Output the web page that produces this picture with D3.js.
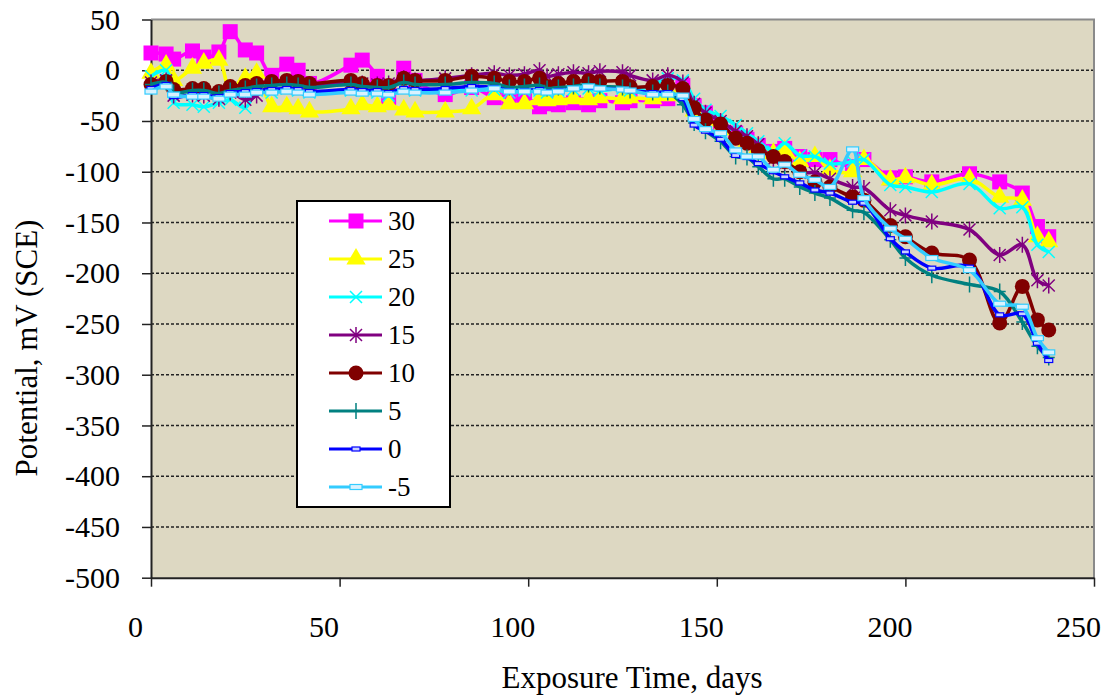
<!DOCTYPE html>
<html>
<head>
<meta charset="utf-8">
<script src="https://cdn.jsdelivr.net/npm/d3@7"></script>
<style>
  body { margin: 0; background: #fff; }
  svg { display: block; }
  svg text { font-family: "Liberation Serif", "Times New Roman", serif; }
</style>
</head>
<body>
<div id="chartDiv"></div>
<script>
var width = 1109;
var height = 698;
var serif = '"Liberation Serif", "Times New Roman", serif';

// measurement days shared by all series
const days = [0, 4, 6, 11, 14, 18, 21, 25, 28, 32, 36, 39, 42, 53, 56, 60, 63, 67, 70, 78,
    85, 91, 95, 99, 103, 105, 108, 112, 116, 119, 125, 127, 133, 137, 141, 144, 147, 151, 155, 158,
    161, 165, 168, 172, 176, 180, 186, 189, 196, 200, 207, 217, 225, 231, 235, 238];

const s30 = [17, 16, 11, 19, 13, 18, 38, 20, 17, -5, 6, 0, -13, 5, 10, -6, -27, 2, -10, -24,
    -17, -27, -28, -30, -36, -33, -34, -32, -34, -30, -32, -30, -30, -28, -15, -35, -42, -55, -62, -68,
    -74, -80, -77, -85, -88, -88, -95, -88, -106, -105, -110, -102, -110, -121, -154, -164];
const s25 = [-3, 5, -10, 2, 7, 10, -19, -8, -3, -36, -36, -38, -41, -38, -34, -36, -34, -39, -41, -41,
    -38, -24, -33, -33, -29, -30, -29, -28, -29, -27, -28, -27, -28, -25, -18, -40, -48, -58, -66, -70,
    -76, -82, -79, -90, -85, -98, -100, -88, -108, -106, -113, -107, -125, -128, -164, -169];
const s20 = [-6, 0, -32, -34, -36, -32, -29, -37, -20, -22, -18, -20, -22, -20, -19, -22, -25, -18, -20, -19,
    -20, -19, -22, -20, -20, -22, -20, -19, -18, -20, -18, -20, -15, -8, -10, -28, -39, -45, -54, -62,
    -70, -80, -72, -84, -85, -92, -90, -88, -113, -115, -120, -112, -136, -135, -172, -179];
const s15 = [-12, -10, -25, -24, -25, -28, -22, -29, -25, -14, -12, -12, -14, -12, -13, -14, -13, -8, -10, -8,
    -5, -3, -5, -4, 0, -6, -4, -2, -3, -1, -2, -5, -10, -5, -12, -33, -42, -50, -60, -65,
    -73, -88, -92, -101, -101, -107, -115, -116, -138, -143, -149, -157, -182, -172, -207, -212];
const s10 = [-14, -11, -19, -18, -18, -21, -16, -15, -13, -11, -10, -11, -13, -10, -13, -15, -15, -8, -10, -10,
    -6, -8, -11, -11, -8, -16, -13, -11, -10, -11, -11, -16, -16, -15, -18, -37, -49, -53, -67, -72,
    -79, -85, -90, -100, -110, -115, -125, -128, -153, -164, -180, -187, -249, -213, -246, -256];
const s5 = [-14, -12, -22, -20, -20, -23, -20, -18, -16, -15, -14, -15, -17, -14, -16, -17, -17, -12, -14, -14,
    -12, -13, -17, -16, -15, -18, -17, -16, -14, -16, -17, -20, -22, -22, -34, -52, -60, -70, -85, -86,
    -95, -107, -107, -115, -121, -126, -138, -140, -167, -185, -202, -211, -218, -248, -272, -283];
const s0 = [-18, -14, -26, -24, -24, -26, -22, -21, -20, -19, -18, -19, -21, -19, -20, -20, -22, -18, -19, -18,
    -16, -17, -20, -20, -19, -21, -20, -18, -17, -18, -19, -20, -22, -22, -28, -54, -60, -68, -84, -86,
    -92, -100, -105, -111, -118, -121, -130, -131, -166, -179, -195, -194, -241, -240, -269, -286];
const sM5 = [-21, -16, -24, -26, -26, -28, -24, -24, -22, -22, -21, -22, -24, -22, -23, -23, -24, -21, -22, -22,
    -20, -18, -21, -21, -21, -22, -21, -18, -16, -18, -19, -20, -24, -24, -25, -48, -58, -62, -79, -85,
    -85, -98, -93, -103, -108, -115, -78, -126, -156, -166, -185, -197, -230, -233, -264, -278];

const seriesNames = ["30", "25", "20", "15", "10", "5", "0", "-5"];
const seriesValues = [s30, s25, s20, s15, s10, s5, s0, sM5];
const seriesColors = ["#ff00ff", "#ffff00", "#00ffff", "#800080", "#800000", "#008080", "#0000ff", "#33ccff"];
const seriesMarkers = ["square", "triangle", "x", "star", "circle", "plus", "dash", "box"];

const yTicks = [50, 0, -50, -100, -150, -200, -250, -300, -350, -400, -450, -500];
const xTicks = [0, 50, 100, 150, 200, 250];

var x = d3.scaleLinear().domain([0, 250]).range([151, 1094]);
var y = d3.scaleLinear().domain([-500, 50]).range([577.7, 19.5]);

var svg = d3.select("#chartDiv")
    .append("svg")
    .attr("width", width)
    .attr("height", height)
    .style("font-family", serif);

// plot area
svg.append("rect")
    .attr("x", x(0)).attr("y", y(50))
    .attr("width", x(250) - x(0)).attr("height", y(-500) - y(50))
    .attr("fill", "#ddd8c2");

// dashed gridlines
svg.append("g")
    .selectAll("line")
    .data(yTicks.filter(v => v < 50 && v > -500))
    .join("line")
        .attr("x1", x(0)).attr("x2", x(250))
        .attr("y1", d => y(d)).attr("y2", d => y(d))
        .attr("stroke", "#222")
        .attr("stroke-width", 1.5)
        .attr("stroke-dasharray", "3,2");

// frame top/right
svg.append("path")
    .attr("d", `M${x(0)},${y(50)}H${x(250)}V${y(-500)}`)
    .attr("fill", "none")
    .attr("stroke", "#8a8a8a")
    .attr("stroke-width", 2);

var yAxis = svg.append("g")
    .attr("transform", `translate(${x(0)},0)`)
    .call(d3.axisLeft(y).tickValues(yTicks).tickFormat(d => String(d))
        .tickSizeInner(9).tickSizeOuter(0).tickPadding(22));
var xAxis = svg.append("g")
    .attr("transform", `translate(0,${y(-500)})`)
    .call(d3.axisBottom(x).tickValues(xTicks).tickFormat(d => String(d))
        .tickSizeInner(9).tickSizeOuter(0));

[yAxis, xAxis].forEach(a => {
    a.attr("font-family", null).attr("font-size", null);
    a.select(".domain").attr("stroke", "#222").attr("stroke-width", 2);
    a.selectAll(".tick line").attr("stroke", "#222").attr("stroke-width", 1.5);
    a.selectAll("text").style("font-family", serif)
        .style("font-size", "30px").attr("fill", "#000");
});
xAxis.selectAll("text").attr("y", 49).attr("dy", "0.33em").attr("dx", -16);

// axis titles
svg.append("text")
    .attr("x", 632).attr("y", 688)
    .attr("text-anchor", "middle")
    .style("font-size", "31px")
    .text("Exposure Time, days");

svg.append("text")
    .attr("transform", "translate(37,348) rotate(-90)")
    .attr("text-anchor", "middle")
    .style("font-size", "31px")
    .text("Potential, mV (SCE)");

// marker drawing
const drawMarker = (sel, type, color) => {
    if (type === "square") {
        sel.append("rect").attr("x", -7.5).attr("y", -7.5).attr("width", 15).attr("height", 15).attr("fill", color);
    } else if (type === "triangle") {
        sel.append("path").attr("d", d3.symbol(d3.symbolTriangle, 160)()).attr("fill", color);
    } else if (type === "circle") {
        sel.append("circle").attr("r", 7.5).attr("fill", color);
    } else if (type === "x") {
        sel.append("path").attr("d", "M-6,-6L6,6M-6,6L6,-6").attr("stroke", color).attr("stroke-width", 1.5);
    } else if (type === "star") {
        sel.append("path").attr("d", "M-6,-6L6,6M-6,6L6,-6M0,-8V8").attr("stroke", color).attr("stroke-width", 1.5);
    } else if (type === "plus") {
        sel.append("path").attr("d", "M0,-8V8M-6,0H6").attr("stroke", color).attr("stroke-width", 1.5);
    } else if (type === "dash") {
        sel.append("rect").attr("x", -4).attr("y", -2).attr("width", 8).attr("height", 4)
            .attr("fill", "#c8d0ff").attr("stroke", color).attr("stroke-width", 1.2);
    } else if (type === "box") {
        sel.append("rect").attr("x", -6).attr("y", -2.5).attr("width", 12).attr("height", 5)
            .attr("fill", "#d8f2ff").attr("stroke", color).attr("stroke-width", 1.2);
    }
};

var line = d3.line()
    .x(d => x(d[0]))
    .y(d => y(d[1]))
    .curve(d3.curveCatmullRom.alpha(0.5));

var plot = svg.append("g");

seriesNames.forEach((name, i) => {
    var pts = days.map((d, j) => [d, seriesValues[i][j]]);
    var g = plot.append("g");
    g.append("path")
        .datum(pts)
        .attr("d", line)
        .attr("fill", "none")
        .attr("stroke", seriesColors[i])
        .attr("stroke-width", 3.5)
        .attr("stroke-linejoin", "round");
    g.selectAll("g")
        .data(pts)
        .join("g")
            .attr("transform", d => `translate(${x(d[0])},${y(d[1])})`)
            .each(function() { drawMarker(d3.select(this), seriesMarkers[i], seriesColors[i]); });
});

// legend
var legend = svg.append("g").attr("transform", "translate(297,201)");
legend.append("rect")
    .attr("width", 153).attr("height", 306)
    .attr("fill", "#fff")
    .attr("stroke", "#000")
    .attr("stroke-width", 2);

var item = legend.selectAll("g.item")
    .data(seriesNames)
    .join("g")
        .attr("class", "item")
        .attr("transform", (d, i) => `translate(0,${20 + i * 38})`);

item.append("line")
    .attr("x1", 32).attr("x2", 85)
    .attr("stroke", (d, i) => seriesColors[i])
    .attr("stroke-width", 3);
item.each(function(d, i) {
    var m = d3.select(this).append("g").attr("transform", "translate(59,0)");
    drawMarker(m, seriesMarkers[i], seriesColors[i]);
});
item.append("text")
    .attr("x", 91).attr("dy", "0.35em")
    .style("font-size", "27px")
    .text(d => d);
</script>
</body>
</html>
